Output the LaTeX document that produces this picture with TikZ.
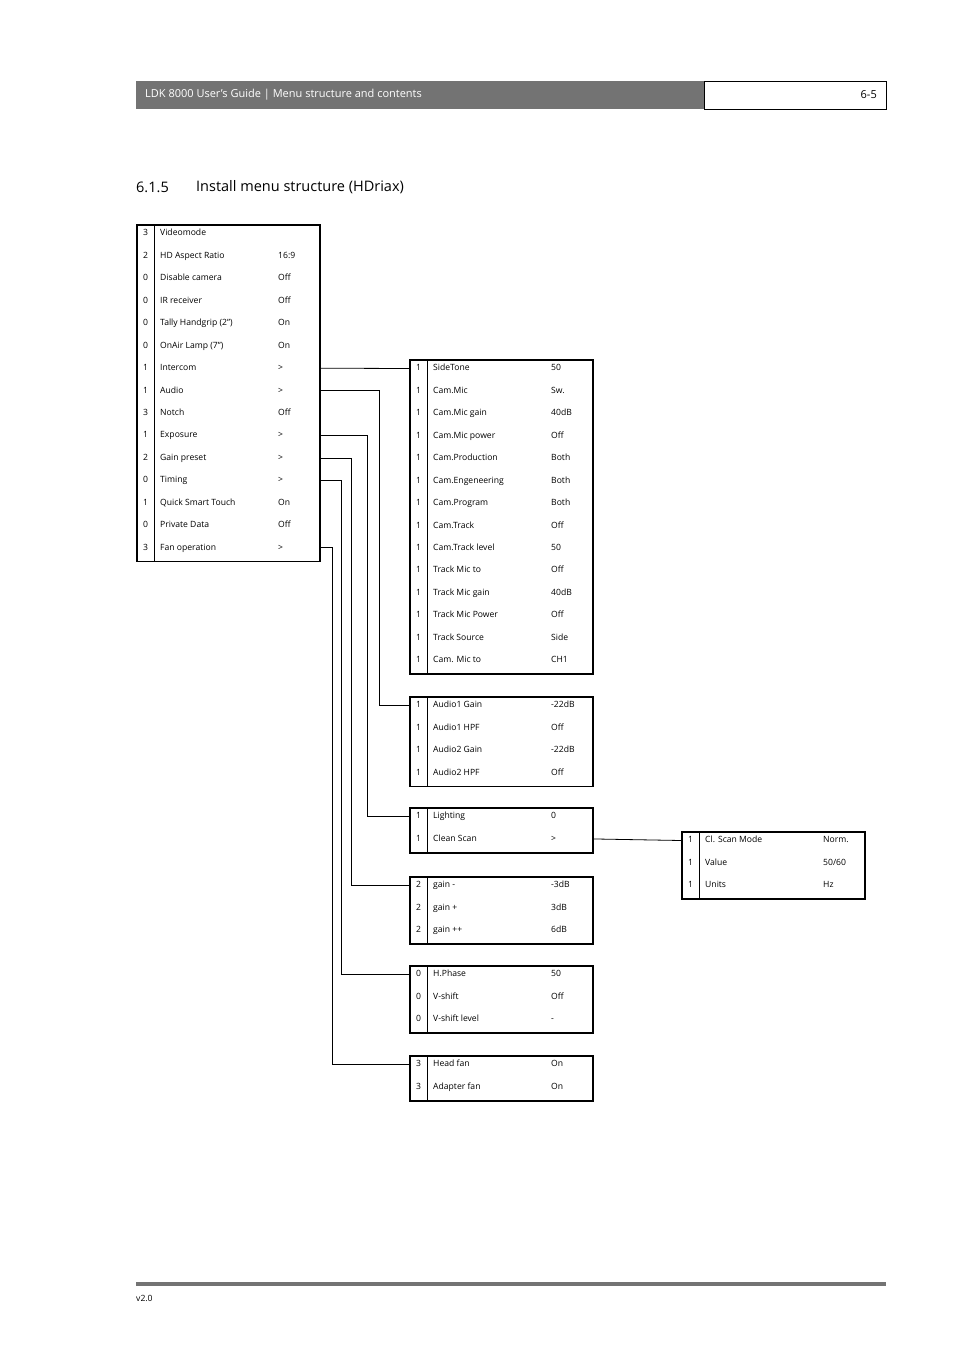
\documentclass[tikz,border=0pt]{standalone}
\usepackage{fontspec}
\setmainfont{Open Sans}
\usetikzlibrary{positioning}
\tikzset{
  boxframe/.style={draw, line width=1.6pt, inner sep=0pt},
  sepline/.style={line width=0.7pt},
  link/.style={draw, line width=0.8pt},
  rowtext/.style={font=\fontsize{8.6}{10}\selectfont, inner sep=0pt, anchor=west, text height=6.5pt, text depth=1.8pt},
}
% id, x left, y top, rows as num/label/value
\newcommand{\menubox}[4]{%
  \foreach \n/\lab/\val [count=\i] in {#4} {
    \node[rowtext, anchor=center] (#1-n\i) at (#2+9.5, #3+9.5+\i*22.45-22.45) {\n};
    \node[rowtext] (#1-\i) at (#2+24, #3+9.5+\i*22.45-22.45) {\lab};
    \node[rowtext] (#1-v\i) at (#2+142, #3+9.5+\i*22.45-22.45) {\val};
    \xdef\nrows{\i}
  }
  \node[boxframe, anchor=north west, minimum width=183pt, minimum height=\nrows*22.45pt] (#1) at (#2,#3) {};
  \draw[sepline] (#2+18,#3) -- (#2+18,#3+\nrows*22.45);
}
\begin{document}
\begin{tikzpicture}[x=1pt,y=-1pt]
\useasboundingbox (0,0) rectangle (954,1351);
% header
\fill[black!55] (136,81) rectangle (704,109);
\node[draw, line width=0.8pt, minimum width=182pt, minimum height=28pt, anchor=north west, inner sep=0pt] (pagebox) at (704,81) {};
\node[anchor=west, text=white, font=\fontsize{11}{13}\selectfont, inner sep=0pt] (headtxt) at (145,95) {LDK 8000 User’s Guide | Menu structure and contents};
\node[anchor=east, font=\fontsize{11}{13}\selectfont, inner sep=0pt] (pagenum) at (877,95) {6-5};
\node[anchor=west, font=\fontsize{14.5}{17}\selectfont, inner sep=0pt] (secnum) at (136,187) {6.1.5};
\node[anchor=west, font=\fontsize{14.5}{17}\selectfont, inner sep=0pt] (sectitle) at (196,187) {Install menu structure (HDriax)};

\menubox{main}{136}{224}{3/Videomode/, 2/HD Aspect Ratio/16:9, 0/Disable camera/Off, 0/IR receiver/Off,
  0/Tally Handgrip (2”)/On, 0/OnAir Lamp (7”)/On, 1/Intercom/>, 1/Audio/>, 3/Notch/Off,
  1/Exposure/>, 2/Gain preset/>, 0/Timing/>, 1/Quick Smart Touch/On, 0/Private Data/Off, 3/Fan operation/>}
\menubox{intercom}{409}{359}{1/SideTone/50, 1/Cam.Mic/Sw., 1/Cam.Mic gain/40dB, 1/Cam.Mic power/Off,
  1/Cam.Production/Both, 1/Cam.Engeneering/Both, 1/Cam.Program/Both, 1/Cam.Track/Off,
  1/Cam.Track level/50, 1/Track Mic to/Off, 1/Track Mic gain/40dB, 1/Track Mic Power/Off,
  1/Track Source/Side, 1/Cam. Mic to/CH1}
\menubox{audio}{409}{696}{1/Audio1 Gain/-22dB, 1/Audio1 HPF/Off, 1/Audio2 Gain/-22dB, 1/Audio2 HPF/Off}
\menubox{exposure}{409}{807}{1/Lighting/0, 1/Clean Scan/>}
\menubox{gain}{409}{876}{2/gain -/-3dB, 2/gain +/3dB, 2/gain ++/6dB}
\menubox{timing}{409}{965}{0/H.Phase/50, 0/V-shift/Off, 0/V-shift level/-}
\menubox{fan}{409}{1055}{3/Head fan/On, 3/Adapter fan/On}
\menubox{cleanscan}{681}{831}{1/Cl. Scan Mode/Norm., 1/Value/50\slash 60, 1/Units/Hz}

% connectors
\coordinate (busaudio) at (379,0);
\coordinate (busexp) at (367,0);
\coordinate (busgain) at (351,0);
\coordinate (bustime) at (341,0);
\coordinate (busfan) at (332,0);
\path[link] (main-7 -| main.east) -- (intercom-1 -| intercom.west);
\path[link] (main-8 -| main.east) -| (busaudio |- audio-1) -- (audio-1 -| audio.west);
\path[link] (main-10 -| main.east) -| (busexp |- exposure-1) -- (exposure-1 -| exposure.west);
\path[link] (main-11 -| main.east) -| (busgain |- gain-1) -- (gain-1 -| gain.west);
\path[link] (main-12 -| main.east) -| (bustime |- timing-1) -- (timing-1 -| timing.west);
\path[link] (main-15 -| main.east) -| (busfan |- fan-1) -- (fan-1 -| fan.west);
\path[link] (exposure-2 -| exposure.east) -- (cleanscan-1 -| cleanscan.west);

% footer
\draw[black!55, line width=4pt] (136,1284) -- (886,1284);
\node[anchor=west, font=\fontsize{8.6}{10}\selectfont, inner sep=0pt] (version) at (136,1298) {v2.0};
\end{tikzpicture}
\end{document}
